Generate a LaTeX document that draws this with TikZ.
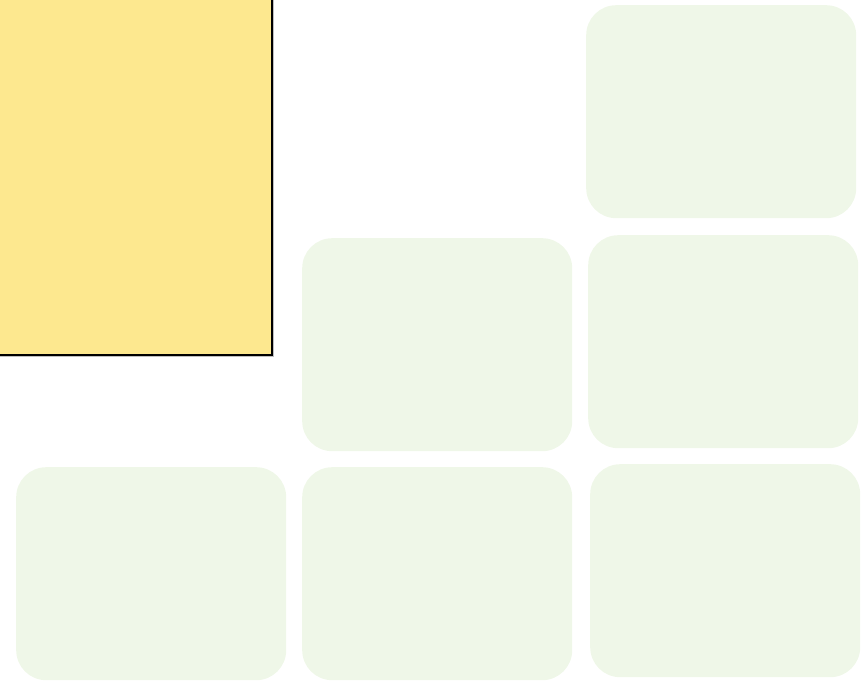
\documentclass[tikz,border=0pt]{standalone}
\usepackage{tikz}
\definecolor{notey}{HTML}{FDE88F}
\definecolor{cellg}{HTML}{EFF7E8}
\tikzset{cell/.style={fill=cellg, draw=none, rounded corners=30pt, minimum width=270pt, minimum height=213pt, inner sep=0pt, anchor=north west}}

\begin{document}
\begin{tikzpicture}[x=1pt,y=-1pt]
\useasboundingbox (0,0) rectangle (862,686);
\clip (0,0) rectangle (862,686);
\draw[gray!50, line width=1pt] (-5,356.2) -- (273.2,356.2) -- (273.2,-5);
\draw[fill=notey, line width=1.3pt] (-5,-5) rectangle (272,355);
\node[cell] (c13) at (586,5) {};
\node[cell] (c22) at (302,238) {};
\node[cell] (c23) at (588,235) {};
\node[cell] (c31) at (16,467) {};
\node[cell] (c32) at (302,467) {};
\node[cell] (c33) at (590,464) {};
\end{tikzpicture}
\end{document}
